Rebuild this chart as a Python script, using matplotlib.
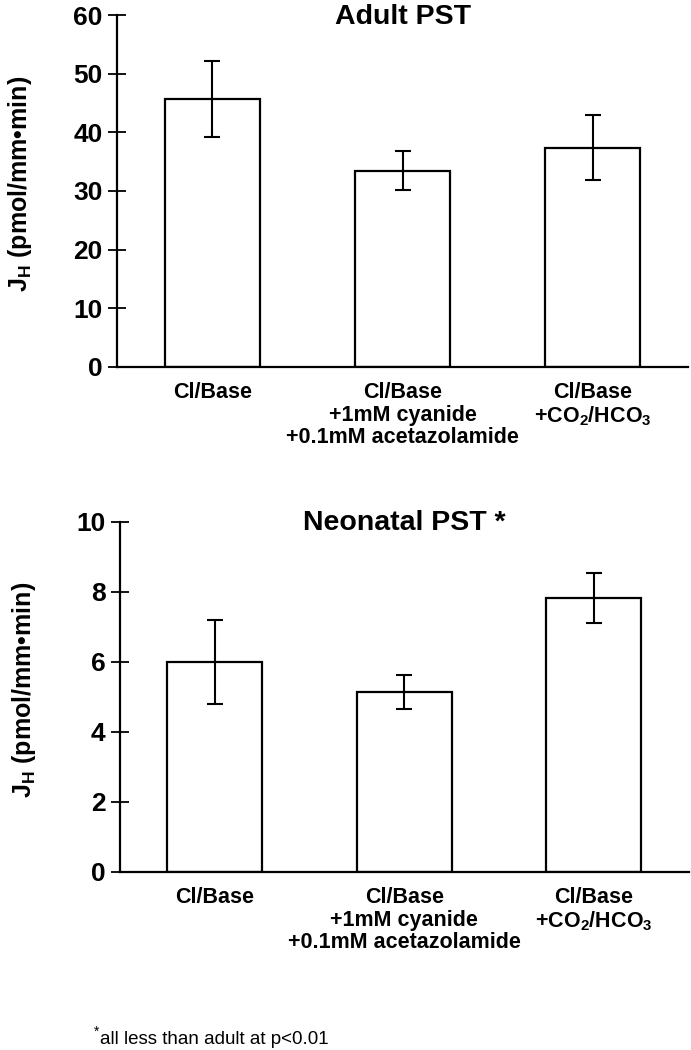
import matplotlib
matplotlib.use("Agg")
import matplotlib.pyplot as plt
import numpy as np

plt.rcParams['font.family'] = ['Liberation Sans', 'DejaVu Sans']
plt.rcParams['mathtext.fontset'] = 'custom'
plt.rcParams['mathtext.rm'] = 'Liberation Sans'
plt.rcParams['mathtext.bf'] = 'Liberation Sans:bold'
plt.rcParams['mathtext.it'] = 'Liberation Sans:italic'

# data
categories = ["Cl/Base",
              "Cl/Base\n+1mM cyanide\n+0.1mM acetazolamide",
              r"Cl/Base" "\n" r"+CO$_\mathbf{2}$/HCO$_\mathbf{3}$"]

adult_mean = [45.7, 33.5, 37.4]
adult_err = [6.5, 3.4, 5.6]

neo_mean = [6.0, 5.13, 7.83]
neo_err = [1.2, 0.49, 0.71]

ylabel = r"$\mathbf{J_H}$ (pmol/mm•min)"


def draw_panel(ax, means, errs, yticks, title):
    x = np.arange(len(means))
    ax.bar(x, means, width=0.5, color="white", edgecolor="black", linewidth=1.6)
    ax.errorbar(x, means, yerr=errs, fmt="none", ecolor="black",
                elinewidth=1.5, capsize=6, capthick=1.5)
    ax.set_xlim(-0.5, 2.5)
    ax.set_ylim(0, yticks[-1])
    ax.set_yticks(yticks)
    ax.set_xticks(x)
    ax.set_xticklabels(categories, fontsize=15.5, fontweight="bold",
                       linespacing=1.1)
    for lab in ax.get_yticklabels():
        lab.set_fontsize(19)
        lab.set_fontweight("bold")
    ax.tick_params(axis="y", direction="inout", length=13, width=1.3, pad=4)
    ax.tick_params(axis="x", length=0, pad=11)
    for s in ["top", "right"]:
        ax.spines[s].set_visible(False)
    for s in ["left", "bottom"]:
        ax.spines[s].set_linewidth(1.6)
    ax.set_ylabel(ylabel, fontsize=18, fontweight="bold")
    ax.yaxis.set_label_coords(-0.145, 0.52)
    ax.text(0.5, 0.995, title, transform=ax.transAxes, ha="center",
            va="center", fontsize=20.5, fontweight="bold")


fig = plt.figure(figsize=(6.91, 10.5), dpi=100)
ax1 = fig.add_axes([0.1693, 0.6508, 0.8264, 0.3346])
ax2 = fig.add_axes([0.1737, 0.1698, 0.8227, 0.3333])

draw_panel(ax1, adult_mean, adult_err, [0, 10, 20, 30, 40, 50, 60], "Adult PST")
draw_panel(ax2, neo_mean, neo_err, [0, 2, 4, 6, 8, 10], "Neonatal PST *")

fig.text(0.136, 0.0135, "*", fontsize=10, ha="left", va="baseline")
fig.text(0.1445, 0.006, "all less than adult at p<0.01", fontsize=13.5,
         ha="left", va="baseline")

fig.savefig("out.png", dpi=100)
